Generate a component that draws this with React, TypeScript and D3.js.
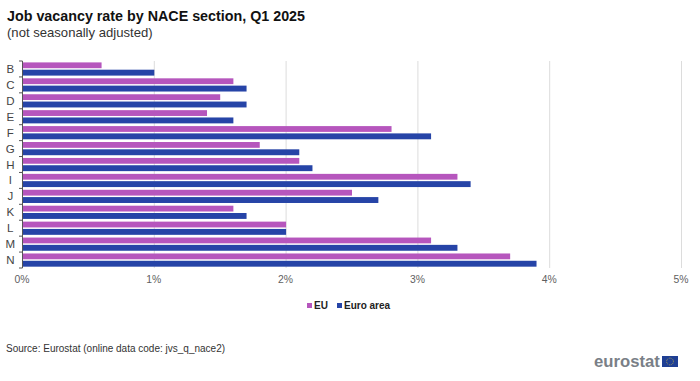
import React from "react";
import * as d3 from "d3";

const categories = ["B","C","D","E","F","G","H","I","J","K","L","M","N"];
const euValues = [0.6,1.6,1.5,1.4,2.8,1.8,2.1,3.3,2.5,1.6,2.0,3.1,3.7];
const euroAreaValues = [1.0,1.7,1.7,1.6,3.1,2.1,2.2,3.4,2.7,1.7,2.0,3.3,3.9];
const xTicks = [0,1,2,3,4,5];
const font = "'Liberation Sans', Arial, sans-serif";
const EU_COLOR = "#b656bd";
const EA_COLOR = "#2644a7";

const W = 700, H = 381;
const x = d3.scaleLinear().domain([0,5]).range([22.5,681.5]);
const y = d3.scaleBand<string>().domain(categories).range([61,268]);

export default function App() {
  const band = y.bandwidth();
  return (
    <svg width={W} height={H} viewBox={`0 0 ${W} ${H}`} style={{position:"absolute",left:0,top:0,background:"#fff"}} fontFamily={font}>
      <text x={7} y={21} fontSize={14.3} fontWeight="bold" fill="#111">Job vacancy rate by NACE section, Q1 2025</text>
      <text x={7} y={36.5} fontSize={13.1} fill="#333">(not seasonally adjusted)</text>
      {xTicks.slice(1).map(t => (
        <line key={t} x1={x(t)} x2={x(t)} y1={61} y2={268} stroke="#dcdcdc" strokeWidth={1} />
      ))}
      {categories.map((c,i) => {
        const y0 = y(c)!;
        return (
          <g key={c}>
            <rect x={x(0)} y={y0+1.4} width={x(euValues[i])-x(0)} height={5.8} fill={EU_COLOR} />
            <rect x={x(0)} y={y0+8.7} width={x(euroAreaValues[i])-x(0)} height={5.9} fill={EA_COLOR} />
            <text x={10.3} y={y0+band/2+4} fontSize={11.5} fill="#444" textAnchor="middle">{c}</text>
          </g>
        );
      })}
      <line x1={22.5} x2={22.5} y1={61} y2={268} stroke="#555" />
      {[...categories.map(c => y(c)!), 268].map((v,i) => (
        <line key={i} x1={19} x2={22.5} y1={v} y2={v} stroke="#555" />
      ))}
      {xTicks.map(t => (
        <text key={t} x={x(t)-0.5} y={283} fontSize={10.4} fill="#5f5f5f" textAnchor="middle">{t}%</text>
      ))}
      <rect x={307} y={303} width={5} height={5} fill={EU_COLOR} />
      <text x={314} y={309} fontSize={10} fontWeight="bold" fill="#222">EU</text>
      <rect x={337} y={303} width={5} height={5} fill={EA_COLOR} />
      <text x={344} y={309} fontSize={10} fontWeight="bold" fill="#222">Euro area</text>
      <text x={6} y={352} fontSize={10} fill="#333">Source: Eurostat (online data code: jvs_q_nace2)</text>
      <text x={594} y={367} fontSize={16.7} fontWeight="bold" fill="#7a7f87">eurostat</text>
      <rect x={662} y={356} width={16} height={11} fill="#1f3f94" />
      <circle cx={670} cy={361.5} r={3.4} fill="none" stroke="#d8c23a" strokeWidth={0.8} strokeDasharray="0.8 1" />
    </svg>
  );
}
